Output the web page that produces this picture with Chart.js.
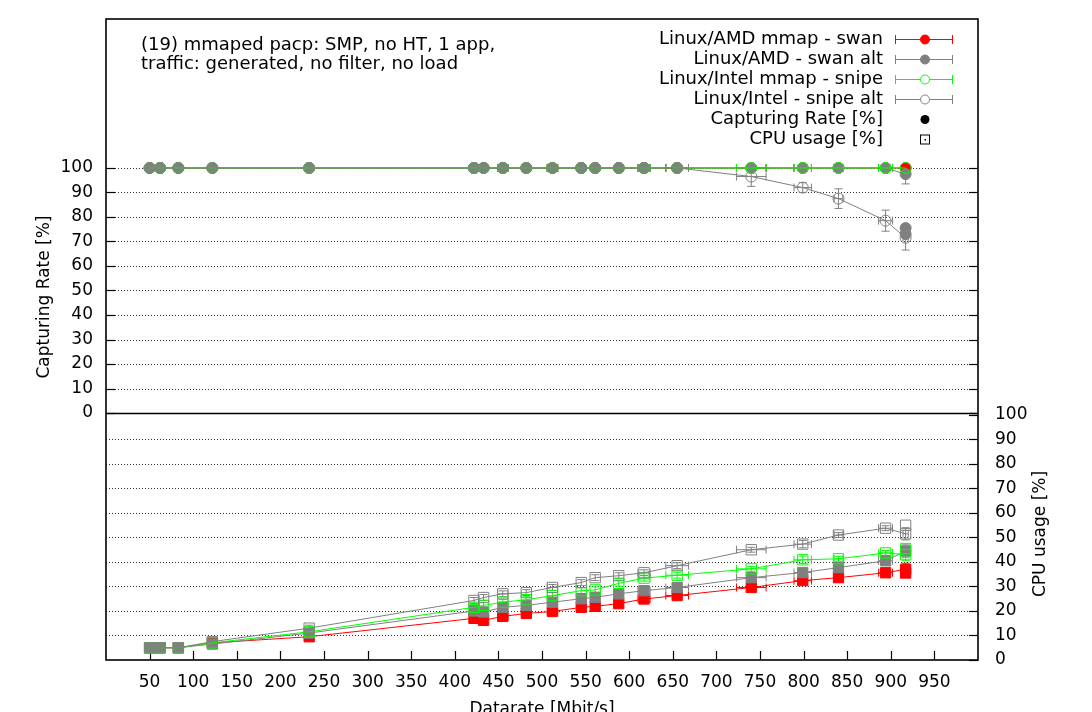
<!DOCTYPE html>
<html>
<head>
<meta charset="utf-8">
<script src="https://cdn.jsdelivr.net/npm/chart.js@4.4.1/dist/chart.umd.min.js"></script>
<style>
  html, body { margin: 0; padding: 0; background: #fff; overflow: hidden; }
  #wrap { width: 1092px; height: 712px; }
</style>
</head>
<body>
<div id="wrap"><canvas id="c"></canvas></div>
<script>
// datarate [Mbit/s], shared by all four series
const rates   = [50, 62, 83, 122, 233, 422, 433, 455, 482, 512, 545, 561, 588, 617, 655, 740, 799, 840, 894, 917];
const rateErr = [0, 0, 0, 0, 0, 0, 0, 6, 0, 6, 0, 0, 0, 7, 13, 17, 10, 5, 8, 3];
const lastRate = 917;

// capturing rate [%]
const capAmdMmap   = [100, 100, 100, 100, 100, 100, 100, 100, 100, 100, 100, 100, 100, 100, 100, 100, 100, 100, 100, 100];
const capAmdAlt    = [100, 100, 100, 100, 100, 100, 100, 100, 100, 100, 100, 100, 100, 100, 100, 100, 100, 100, 100, 97.5];
const capIntelMmap = [100, 100, 100, 100, 100, 100, 100, 100, 100, 100, 100, 100, 100, 100, 100, 100, 100, 100, 100, 100];
const capIntelAlt  = [100, 100, 100, 100, 100, 100, 100, 100, 100, 100, 100, 100, 100, 100, 100, 96.5, 92, 87.5, 78.5, 71.5];
const capAmdAltErr   = [0, 0, 0, 0, 0, 0, 0, 0, 0, 0, 0, 0, 0, 0, 0, 0, 0, 0, 0, 4];
const capIntelAltErr = [0, 0, 0, 0, 0, 0, 0, 0, 0, 0, 0, 0, 0, 0, 0, 4, 2, 4, 4.3, 5];
const capAmdAltTail  = [75.5, 73];   // extra runs at 917

// CPU usage [%]
const cpuAmdMmap   = [5, 5, 5, 7, 9.5, 17, 16.2, 17.8, 19, 19.8, 21.5, 21.9, 23, 24.9, 26.3, 29.6, 32.4, 33.6, 35.6, 37];
const cpuAmdAlt    = [5, 5, 5, 6.5, 11, 20, 19.6, 21.5, 22.3, 23.6, 25, 25.6, 27, 28.3, 29.6, 33.6, 35.7, 37.7, 40.5, 44.5];
const cpuIntelMmap = [5, 5, 5, 7, 11.5, 21.5, 22.3, 23.6, 24.6, 26.3, 28.3, 28.6, 31.3, 33.4, 34.6, 37.2, 40.9, 41.3, 43.7, 43];
const cpuIntelAlt  = [5, 5, 5, 7.5, 13, 24.3, 25.5, 27, 27.5, 29.6, 31.6, 33.6, 34.4, 35.6, 38.5, 45, 47.3, 51, 53.8, 51.5];
const cpuErr       = [0, 0, 0, 0.8, 1.2, 1.2, 1.2, 1.2, 1.2, 1.2, 1.2, 1.2, 1.2, 1.2, 1.2, 1, 1.5, 1, 1, 2.5];
const cpuAmdMmapTail   = [35.5];
const cpuIntelMmapTail = [45.5];
const cpuIntelAltTail  = [55];

const seriesLabels = ['Linux/AMD mmap - swan', 'Linux/AMD - swan alt', 'Linux/Intel mmap - snipe', 'Linux/Intel - snipe alt'];
const seriesColors = ['#ff0000', '#808080', '#00ff00', '#808080'];
const seriesFilled = [true, true, false, false];

const FONT = '"DejaVu Sans", sans-serif';

function pts(vals, tail) {
  const p = rates.map((r, i) => ({ x: r, y: vals[i] }));
  (tail || []).forEach(v => p.push({ x: lastRate, y: v }));
  return p;
}
function pad(arr, tail) {
  return arr.concat((tail || []).map(() => 0));
}

const capSets = [
  { vals: capAmdMmap, err: null, tail: [] },
  { vals: capAmdAlt, err: capAmdAltErr, tail: capAmdAltTail },
  { vals: capIntelMmap, err: null, tail: [] },
  { vals: capIntelAlt, err: capIntelAltErr, tail: [] },
];
const cpuSets = [
  { vals: cpuAmdMmap, tail: cpuAmdMmapTail },
  { vals: cpuAmdAlt, tail: [] },
  { vals: cpuIntelMmap, tail: cpuIntelMmapTail },
  { vals: cpuIntelAlt, tail: cpuIntelAltTail },
];

const datasets = [];
seriesLabels.forEach((label, i) => {
  const color = seriesColors[i];
  const fill = seriesFilled[i] ? color : 'rgba(0,0,0,0)';
  const hideVertical = ctx => ctx.p0.parsed.x === ctx.p1.parsed.x ? 'rgba(0,0,0,0)' : color;
  const c = capSets[i], u = cpuSets[i];
  datasets.push({
    label: label + ' cap', yAxisID: 'yCap', order: 10 - i,
    data: pts(c.vals, c.tail),
    xErr: pad(rateErr, c.tail), yErr: c.err ? pad(c.err, c.tail) : null,
    borderColor: color, borderWidth: 1, backgroundColor: fill,
    pointStyle: 'circle', pointRadius: 5.5, pointBorderWidth: 1,
    pointBackgroundColor: fill, pointBorderColor: color,
    tension: 0, fill: false, segment: { borderColor: hideVertical }
  });
  datasets.push({
    label: label + ' cpu', yAxisID: 'yCpu', order: 10 - i,
    data: pts(u.vals, u.tail),
    xErr: pad(rateErr, u.tail), yErr: pad(cpuErr, u.tail),
    borderColor: color, borderWidth: 1, backgroundColor: fill,
    pointStyle: 'rect', pointRadius: 7.3, pointBorderWidth: 1,
    pointBackgroundColor: fill, pointBorderColor: color,
    tension: 0, fill: false, segment: { borderColor: hideVertical }
  });
});

function line(ctx, x1, y1, x2, y2) {
  ctx.beginPath(); ctx.moveTo(x1, y1); ctx.lineTo(x2, y2); ctx.stroke();
}

// gnuplot-like frame: dotted grid, inward ticks, separator, border, error bars
const gnuFrame = {
  id: 'gnuFrame',
  beforeDatasetsDraw(chart) {
    const { ctx, chartArea: a, scales } = chart;
    const yc = scales.yCap, yu = scales.yCpu, x = scales.x;
    ctx.save();
    ctx.lineWidth = 1;
    ctx.strokeStyle = '#333';
    ctx.setLineDash([1, 2]);
    yc.ticks.forEach(t => {
      if (t.value <= 0) return;
      const y = Math.round(yc.getPixelForValue(t.value)) + 0.5;
      line(ctx, a.left, y, a.right, y);
    });
    yu.ticks.forEach(t => {
      if (t.value <= 0 || t.value >= 100) return;
      const y = Math.round(yu.getPixelForValue(t.value)) + 0.5;
      line(ctx, a.left, y, a.right, y);
    });
    ctx.setLineDash([]);
    ctx.strokeStyle = '#000';
    ctx.lineWidth = 1.2;
    yc.ticks.forEach(t => {
      const y = Math.round(yc.getPixelForValue(t.value)) + 0.5;
      line(ctx, a.left, y, a.left + 9, y);
      line(ctx, a.right - 9, y, a.right, y);
    });
    yu.ticks.forEach(t => {
      const y = Math.round(yu.getPixelForValue(t.value)) + 0.5;
      line(ctx, a.right - 9, y, a.right, y);
    });
    x.ticks.forEach(t => {
      const px = Math.round(x.getPixelForValue(t.value)) + 0.5;
      line(ctx, px, a.bottom, px, a.bottom - 9);
    });
    ctx.lineWidth = 1.6;
    const y0 = Math.round(yc.getPixelForValue(0)) + 0.5;
    line(ctx, a.left, y0, a.right, y0);
    ctx.strokeRect(a.left, a.top, a.width, a.height);

    // error bars
    ctx.lineWidth = 1;
    chart.data.datasets.forEach((ds) => {
      const ys = scales[ds.yAxisID];
      ctx.strokeStyle = ds.borderColor;
      ds.data.forEach((p, j) => {
        const xe = ds.xErr ? ds.xErr[j] || 0 : 0;
        const ye = ds.yErr ? ds.yErr[j] || 0 : 0;
        const px = x.getPixelForValue(p.x), py = ys.getPixelForValue(p.y);
        if (xe) {
          const x1 = x.getPixelForValue(p.x - xe), x2 = x.getPixelForValue(p.x + xe);
          line(ctx, x1, py, x2, py);
          line(ctx, x1, py - 4, x1, py + 4);
          line(ctx, x2, py - 4, x2, py + 4);
        }
        if (ye) {
          const y1 = ys.getPixelForValue(p.y - ye), y2 = ys.getPixelForValue(p.y + ye);
          line(ctx, px, y1, px, y2);
          line(ctx, px - 4, y1, px + 4, y1);
          line(ctx, px - 4, y2, px + 4, y2);
        }
      });
    });
    ctx.restore();
  }
};

// key, note and axis titles
const gnuText = {
  id: 'gnuText',
  afterDraw(chart) {
    const { ctx, chartArea: a } = chart;
    ctx.save();
    ctx.fillStyle = '#000';
    ctx.font = '18px ' + FONT;
    ctx.textBaseline = 'middle';

    ctx.textAlign = 'left';
    ctx.fillText('(19) mmaped pacp: SMP, no HT, 1 app,', 141, 45);
    ctx.fillText('traffic: generated, no filter, no load', 141, 64);

    const rows = seriesLabels.concat(['Capturing Rate [%]', 'CPU usage [%]']);
    ctx.textAlign = 'right';
    rows.forEach((txt, i) => {
      const y = 39 + i * 20;
      ctx.fillStyle = '#000';
      ctx.fillText(txt, 883, y);
      ctx.lineWidth = 1;
      if (i < 4) {
        const col = seriesColors[i];
        ctx.strokeStyle = col;
        ctx.beginPath();
        ctx.moveTo(895, y + 0.5); ctx.lineTo(953, y + 0.5);
        ctx.moveTo(895.5, y - 4); ctx.lineTo(895.5, y + 5);
        ctx.moveTo(952.5, y - 4); ctx.lineTo(952.5, y + 5);
        ctx.stroke();
        ctx.beginPath();
        ctx.arc(925, y + 0.5, 4.5, 0, Math.PI * 2);
        ctx.fillStyle = seriesFilled[i] ? col : '#fff';
        ctx.fill();
        ctx.stroke();
      } else if (i === 4) {
        ctx.beginPath();
        ctx.arc(925, y + 0.5, 4.5, 0, Math.PI * 2);
        ctx.fillStyle = '#000';
        ctx.fill();
      } else {
        ctx.strokeStyle = '#000';
        ctx.strokeRect(920.5, y - 4, 9, 9);
        ctx.fillStyle = '#000';
        ctx.fillRect(924.5, y, 1.5, 1.5);
      }
    });

    ctx.fillStyle = '#000';
    ctx.font = '17px ' + FONT;
    ctx.textAlign = 'center';
    ctx.fillText('Datarate [Mbit/s]', (a.left + a.right) / 2, 710);

    ctx.save();
    ctx.translate(44.5, 297);
    ctx.rotate(-Math.PI / 2);
    ctx.fillText('Capturing Rate [%]', 0, 0);
    ctx.restore();

    ctx.save();
    ctx.translate(1041, 534);
    ctx.rotate(-Math.PI / 2);
    ctx.fillText('CPU usage [%]', 0, 0);
    ctx.restore();
    ctx.restore();
  }
};

const tickFont = { family: FONT, size: 17 };
const keep = (lo, hi) => s => { s.ticks = s.ticks.filter(t => t.value >= lo - 1e-6 && t.value <= hi + 1e-6); };
const fixWidth = w => s => { s.width = w; s.paddingTop = 0; s.paddingBottom = 0; };

new Chart(document.getElementById('c'), {
  type: 'line',
  data: { datasets },
  options: {
    responsive: true,
    maintainAspectRatio: false,
    animation: false,
    events: [],
    layout: { padding: { top: 19, left: 0, right: 0, bottom: 0 } },
    plugins: { legend: { display: false }, tooltip: { enabled: false } },
    scales: {
      x: {
        type: 'linear', min: 0, max: 1000,
        grid: { display: false, drawTicks: false }, border: { display: false },
        ticks: { stepSize: 50, padding: 12, color: '#000', font: tickFont, maxRotation: 0, autoSkip: false, callback: v => String(v) },
        afterBuildTicks: keep(50, 950),
        afterFit: s => { s.height = 52; s.paddingLeft = 0; s.paddingRight = 0; }
      },
      yCap: {
        type: 'linear', position: 'left', min: -100.8, max: 160.8,
        grid: { display: false, drawTicks: false }, border: { display: false },
        ticks: { stepSize: 10, padding: 13, color: '#000', font: tickFont, autoSkip: false, callback: v => String(v) },
        afterBuildTicks: keep(0, 100),
        afterFit: fixWidth(106)
      },
      yCpu: {
        type: 'linear', position: 'right', min: 0, max: 261.6,
        grid: { display: false, drawTicks: false }, border: { display: false },
        ticks: { stepSize: 10, padding: 17, color: '#000', font: tickFont, autoSkip: false, callback: v => String(v) },
        afterBuildTicks: keep(0, 100),
        afterFit: fixWidth(114)
      }
    }
  },
  plugins: [gnuFrame, gnuText]
});
</script>
</body>
</html>
